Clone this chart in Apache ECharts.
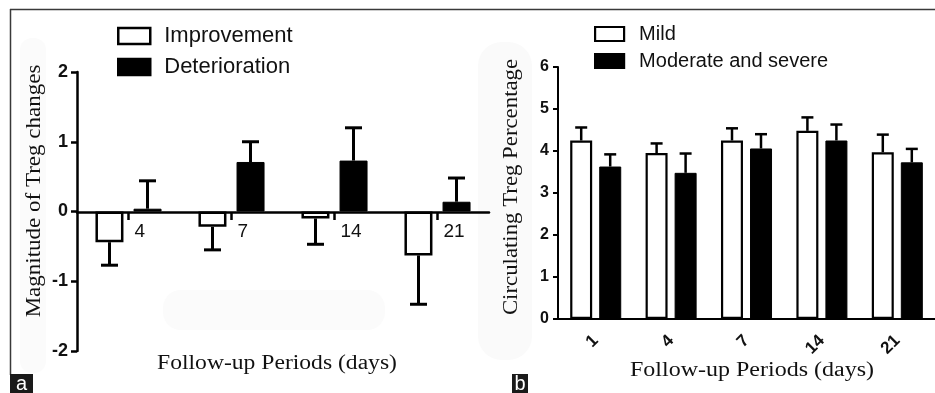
<!DOCTYPE html>
<html>
<head>
<meta charset="utf-8">
<script src="https://cdn.jsdelivr.net/npm/echarts@6/dist/echarts.min.js"></script>
</head>
<body style="margin:0;background:#fff">
<div id="main" style="width:935px;height:393px;"></div>
<script>
// panel a: magnitude of change
var daysA = ['4', '7', '14', '21'];
var improveMean = [-0.44, -0.22, -0.10, -0.63];
var improveErr = [-0.77, -0.55, -0.47, -1.33];
var deterMean = [0.04, 0.71, 0.73, 0.14];
var deterErr = [0.44, 1.00, 1.20, 0.48];

// panel b: circulating Treg %
var daysB = ['1', '4', '7', '14', '21'];
var mildMean = [4.25, 3.95, 4.25, 4.48, 3.97];
var mildErr = [4.56, 4.18, 4.54, 4.80, 4.39];
var modMean = [3.63, 3.48, 4.06, 4.25, 3.73];
var modErr = [3.92, 3.94, 4.40, 4.63, 4.05];

var SANS = '"Liberation Sans", Arial, sans-serif';
var SERIF = '"Liberation Serif", "Times New Roman", serif';

function errSeries(gi, means, ends, dx, cap, lw) {
    var d = means.map(function (m, i) { return [i, m, ends[i]]; });
    return {
        type: 'custom',
        xAxisIndex: gi,
        yAxisIndex: gi,
        data: d,
        z: 3,
        silent: true,
        encode: { x: 0, y: [1, 2] },
        renderItem: function (params, api) {
            var p0 = api.coord([api.value(0), api.value(1)]);
            var p1 = api.coord([api.value(0), api.value(2)]);
            var x = p0[0] + dx;
            return {
                type: 'group',
                children: [
                    { type: 'line', shape: { x1: x, y1: p0[1], x2: x, y2: p1[1] }, style: { stroke: '#000', lineWidth: lw } },
                    { type: 'line', shape: { x1: x - cap / 2, y1: p1[1], x2: x + cap / 2, y2: p1[1] }, style: { stroke: '#000', lineWidth: lw } }
                ]
            };
        }
    };
}

function titleText(txt, x, y, rot, size, sx) {
    return {
        type: 'text',
        x: x, y: y,
        rotation: rot,
        scaleX: sx,
        style: { text: txt, font: size + 'px ' + SERIF, fill: '#111', align: 'center', verticalAlign: 'middle' },
        z: 10
    };
}

var myChart = echarts.init(document.getElementById('main'));

var option = {
    animation: false,
    backgroundColor: '#fff',
    grid: [
        { left: 77, top: 72, width: 412, height: 279 },
        { left: 558, top: 67, width: 377, height: 252 }
    ],
    legend: [
        {
            data: ['Improvement', 'Deterioration'],
            orient: 'vertical',
            left: 112, top: 20,
            itemWidth: 32, itemHeight: 16, itemGap: 9,
            icon: 'rect',
            itemStyle: { borderWidth: 2.5 },
            textStyle: { fontSize: 22, color: '#111', fontFamily: SANS, padding: [0, 0, 0, 9] }
        },
        {
            data: ['Mild', 'Moderate and severe'],
            orient: 'vertical',
            left: 589, top: 19,
            itemWidth: 29, itemHeight: 14, itemGap: 7,
            icon: 'rect',
            itemStyle: { borderWidth: 2.2 },
            textStyle: { fontSize: 20, color: '#111', fontFamily: SANS, padding: [0, 0, 0, 10] }
        }
    ],
    xAxis: [
        {
            gridIndex: 0, type: 'category', data: daysA,
            axisLine: { onZero: false, lineStyle: { color: '#000', width: 2.5 } },
            offset: -139,
            axisTick: { show: true, interval: 0, inside: false, alignWithLabel: true, length: 8, lineStyle: { color: '#000', width: 2.5 } },
            axisLabel: { align: 'left', padding: [0, 0, 0, 6], margin: 10, fontSize: 19, color: '#111', fontFamily: SANS }
        },
        {
            gridIndex: 1, type: 'category', data: daysB,
            axisLine: { lineStyle: { color: '#000', width: 2 } },
            axisTick: { alignWithLabel: true, length: 7, lineStyle: { color: '#000', width: 2 } },
            axisLabel: { rotate: 45, margin: 19, fontSize: 17, fontWeight: 'bold', color: '#111', fontFamily: SANS }
        }
    ],
    yAxis: [
        {
            gridIndex: 0, type: 'value', min: -2, max: 2, interval: 1,
            splitLine: { show: false },
            axisLine: { show: true, lineStyle: { color: '#000', width: 2.5 } },
            axisTick: { show: true, length: 6, lineStyle: { color: '#000', width: 2.5 } },
            axisLabel: { margin: 9, fontSize: 18, fontWeight: 'bold', color: '#111', fontFamily: SANS }
        },
        {
            gridIndex: 1, type: 'value', min: 0, max: 6, interval: 1,
            splitLine: { show: false },
            axisLine: { show: true, lineStyle: { color: '#000', width: 2 } },
            axisTick: { show: true, length: 5, lineStyle: { color: '#000', width: 2 } },
            axisLabel: { margin: 9, fontSize: 16, fontWeight: 'bold', color: '#111', fontFamily: SANS }
        }
    ],
    series: [
        {
            name: 'Improvement', type: 'bar', xAxisIndex: 0, yAxisIndex: 0,
            data: improveMean, barWidth: 28, barGap: '36%',
            itemStyle: { color: '#fff', borderColor: '#000', borderWidth: 2.5 }
        },
        {
            name: 'Deterioration', type: 'bar', xAxisIndex: 0, yAxisIndex: 0,
            data: deterMean, barWidth: 28, barGap: '36%',
            itemStyle: { color: '#000', borderColor: '#000', borderWidth: 1 }
        },
        {
            name: 'Mild', type: 'bar', xAxisIndex: 1, yAxisIndex: 1,
            data: mildMean, barWidth: 22, barGap: '32%',
            itemStyle: { color: '#fff', borderColor: '#000', borderWidth: 2.2 }
        },
        {
            name: 'Moderate and severe', type: 'bar', xAxisIndex: 1, yAxisIndex: 1,
            data: modMean, barWidth: 22, barGap: '32%',
            itemStyle: { color: '#000', borderColor: '#000', borderWidth: 1 }
        },
        errSeries(0, improveMean, improveErr, -19, 17, 3),
        errSeries(0, deterMean, deterErr, 19, 17, 3),
        errSeries(1, mildMean, mildErr, -14.5, 12, 2.5),
        errSeries(1, modMean, modErr, 14.5, 12, 2.5)
    ],
    graphic: [
        // faint scan smudges
        { type: 'rect', shape: { x: 20, y: 38, width: 26, height: 335, r: 12 }, style: { fill: '#fbfbfb' }, z: -1 },
        { type: 'rect', shape: { x: 163, y: 290, width: 222, height: 40, r: 18 }, style: { fill: '#fbfbfb' }, z: -1 },
        { type: 'rect', shape: { x: 478, y: 42, width: 54, height: 318, r: 24 }, style: { fill: '#fafafa' }, z: -1 },
        // frame
        { type: 'line', shape: { x1: 10, y1: 9.5, x2: 935, y2: 9.5 }, style: { stroke: '#3a3a3a', lineWidth: 1.5 } },
        { type: 'line', shape: { x1: 10.5, y1: 9, x2: 10.5, y2: 375 }, style: { stroke: '#3a3a3a', lineWidth: 1.5 } },
        // axis titles
        titleText('Magnitude of Treg changes', 35, 191, Math.PI / 2, 20, 1.15),
        titleText('Follow-up Periods (days)', 277, 364, 0, 20, 1.18),
        titleText('Circulating Treg Percentage', 512, 187, Math.PI / 2, 20, 1.14),
        titleText('Follow-up Periods (days)', 752, 371, 0, 20, 1.2),
        // panel letters
        { type: 'rect', shape: { x: 10, y: 374, width: 23, height: 19 }, style: { fill: '#1a1a1a' } },
        { type: 'text', x: 21.5, y: 384, style: { text: 'a', font: '20px ' + SANS, fill: '#fff', align: 'center', verticalAlign: 'middle' } },
        { type: 'rect', shape: { x: 512, y: 374, width: 16, height: 19 }, style: { fill: '#1a1a1a' } },
        { type: 'text', x: 520, y: 384, style: { text: 'b', font: '20px ' + SANS, fill: '#fff', align: 'center', verticalAlign: 'middle' } }
    ]
};

myChart.setOption(option);
</script>
</body>
</html>
